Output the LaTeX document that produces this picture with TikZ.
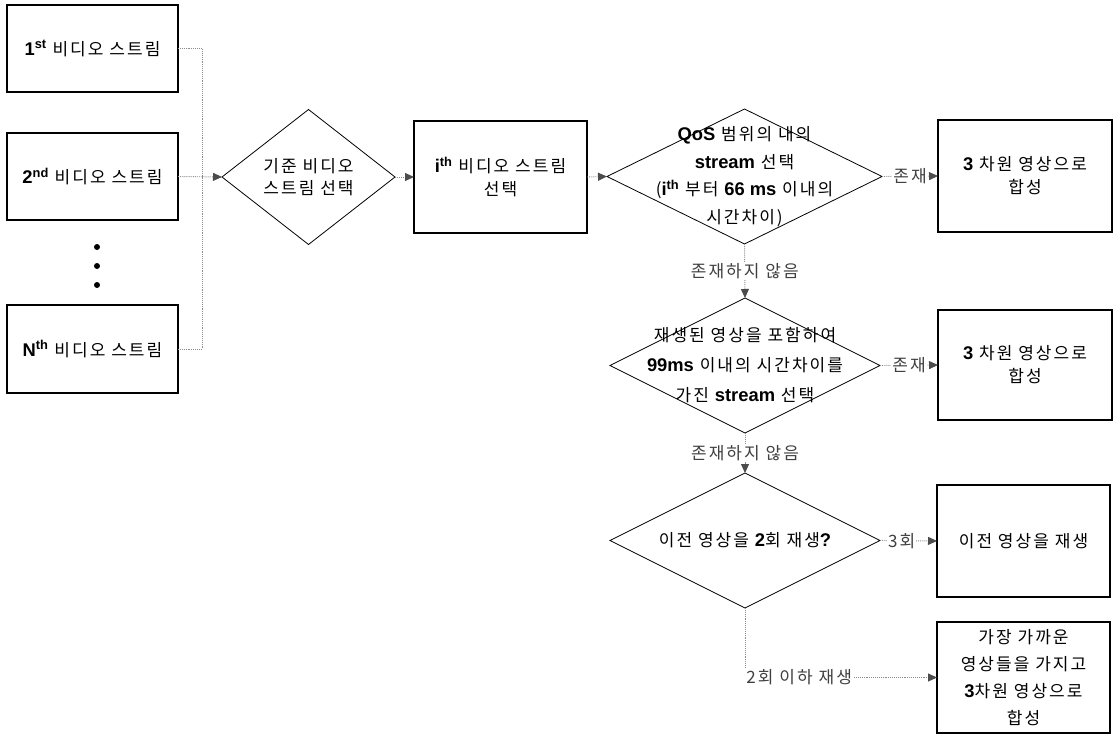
\documentclass[tikz,border=0pt]{standalone}
\usepackage{fontspec}
\setmainfont{Noto Sans CJK KR}[LetterSpace=12]
\newfontfamily\latf{Liberation Sans}[Scale=1.08]
\usetikzlibrary{shapes.geometric,arrows.meta}
\newcommand\lb[1]{{\latf\bfseries #1}}
\tikzset{
  base/.style={font=\fontsize{17}{23}\selectfont, text=black},
  box/.style={base, draw=black, line width=1.1pt, inner sep=0pt, outer sep=0pt, align=center},
  dia/.style={shape=diamond, draw=black, line width=0.8pt, inner sep=0pt, outer sep=0pt},
  dtext/.style={base, align=center},
  conn/.style={draw=black!45, densely dotted, line width=0.9pt},
  arr/.style={conn, -{Triangle[length=9pt,width=8pt,color=black!70]}},
  lbl/.style={base, fill=white, inner sep=1pt, text=black!75}
}
\begin{document}
\begin{tikzpicture}[x=1pt,y=-1pt]
\useasboundingbox (0,0) rectangle (1115,735);
% left boxes
\node[box, minimum width=171pt, minimum height=87pt] (b1) at (92.5,48.5) {\lb{1\textsuperscript{st}} 비디오 스트림};
\node[box, minimum width=171pt, minimum height=87pt] (b2) at (92.5,176.5) {\lb{2\textsuperscript{nd}} 비디오 스트림};
\node[box, minimum width=171pt, minimum height=88pt] (bN) at (92.5,349) {\lb{N\textsuperscript{th}} 비디오 스트림};
\fill (97,247) circle (3pt) (97,266) circle (3pt) (97,285) circle (3pt);
% diamond 1 and box i
\node[dia, minimum width=173pt, minimum height=135pt,
      label={[dtext, font=\fontsize{17}{22}\selectfont]center:{기준 비디오\\스트림 선택}}] (d1) at (308.5,177) {};
\node[box, minimum width=173pt, minimum height=112pt] (bi) at (500.5,177) {\lb{i\textsuperscript{th}} 비디오 스트림\\선택};
% diamond 2
\node[dia, minimum width=275pt, minimum height=135pt,
      label={[dtext, font=\fontsize{17}{27.5}\selectfont]center:{\lb{QoS} 범위의 내의\\\lb{stream} 선택\\(\lb{i\textsuperscript{th}} 부터 \lb{66 ms} 이내의\\시간차이)}}] (d2) at (744.5,176.5) {};
\node[box, minimum width=174pt, minimum height=112pt] (bA) at (1025,176) {\lb{3} 차원 영상으로\\합성};
% diamond 3
\node[dia, minimum width=270pt, minimum height=135pt,
      label={[dtext, font=\fontsize{17}{30}\selectfont]center:{재생된 영상을 포함하여\\\lb{99ms} 이내의 시간차이를\\가진 \lb{stream} 선택}}] (d3) at (745,365.5) {};
\node[box, minimum width=174pt, minimum height=110pt] (bB) at (1025,365) {\lb{3} 차원 영상으로\\합성};
% diamond 4
\node[dia, minimum width=270pt, minimum height=135pt,
      label={[dtext]center:{이전 영상을 \lb{2}회 재생\lb{?}}}] (d4) at (745,540.5) {};
\node[box, minimum width=173pt, minimum height=112pt] (bC) at (1023.5,541) {이전 영상을 재생};
\node[box, minimum width=173pt, minimum height=111pt, font=\fontsize{17}{27}\selectfont] (bD) at (1023.5,677.5) {가장 가까운\\영상들을 가지고\\\lb{3}차원 영상으로\\합성};
% connectors
\coordinate (jn) at (202,177);
\draw[conn] (b1.east) -| (jn);
\draw[conn] (bN.east) -| (jn);
\draw[arr] (b2.east) -- (d1.west);
\draw[arr] (d1.east) -- (bi.west);
\draw[arr] (bi.east) -- (d2.west);
\draw[arr] (d2.east) -- node[lbl]{존재} (bA.west);
\draw[arr] (d2.south) -- node[lbl]{존재하지 않음} (d3.north);
\draw[arr] (d3.east) -- node[lbl]{존재} (bB.west);
\draw[arr] (d3.south) -- node[lbl]{존재하지 않음} (d4.north);
\draw[arr] (d4.east) -- node[lbl, pos=0.38]{3회} (bC.west);
\draw[arr] (d4.south) |- node[lbl, pos=0.5, anchor=west]{2회 이하 재생} (bD.west);
\end{tikzpicture}
\end{document}
